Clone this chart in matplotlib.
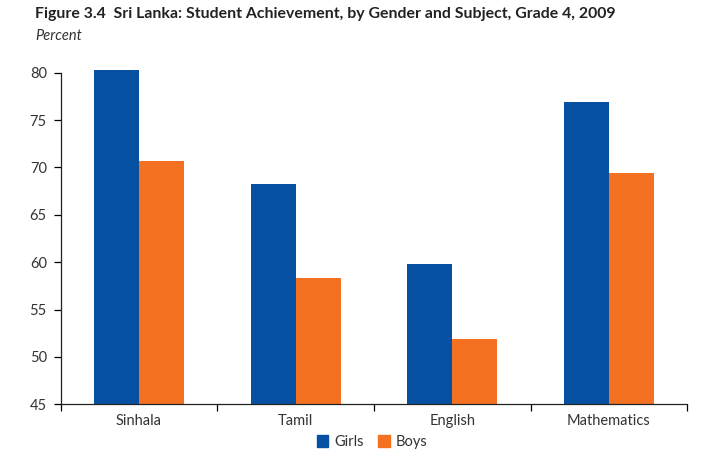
import numpy as np
import matplotlib.pyplot as plt
from matplotlib.patches import Patch

# -------------------------
# Data
# -------------------------
subjects = ["Sinhala", "Tamil", "English", "Mathematics"]
girls = [80.3, 68.3, 59.8, 76.9]
boys = [70.7, 58.3, 51.9, 69.4]

blue = "#0650A2"
orange = "#F37121"
base = 45

plt.rcParams["font.family"] = ["Lato", "DejaVu Sans"]

# -------------------------
# Plot
# -------------------------
fig = plt.figure(figsize=(7.23, 4.69), dpi=100)
ax = fig.add_axes([0.084, 0.138, 0.8666, 0.707])

x = np.arange(len(subjects))
w = 0.287
# bars start at the axis floor; the top Sinhala bar pokes just above 80 as in the original
ax.bar(x - w / 2, np.array(girls) - base, w, bottom=base, color=blue, clip_on=False)
ax.bar(x + w / 2, np.array(boys) - base, w, bottom=base, color=orange, clip_on=False)

ax.set_xlim(-0.5, 3.5)
ax.set_ylim(45, 80)
ax.set_yticks(np.arange(45, 81, 5))

# category boundary ticks on x axis
ax.set_xticks(np.arange(-0.5, 3.6, 1))
ax.set_xticklabels([])
ax.set_xticks(x, minor=True)
ax.set_xticklabels(subjects, minor=True)
ax.tick_params(axis="x", which="minor", length=0, pad=7, labelsize=10.5, labelcolor="#333333")
ax.tick_params(axis="x", which="major", length=5, width=0.9, direction="out")
ax.tick_params(axis="y", length=5, width=0.9, direction="out", pad=5, labelsize=10.5, labelcolor="#333333")

for s in ["top", "right"]:
    ax.spines[s].set_visible(False)
for s in ["left", "bottom"]:
    ax.spines[s].set_linewidth(0.9)
    ax.spines[s].set_color("#222222")
    ax.spines[s].set_zorder(3)

# Titles
fig.text(35 / 723, 1 - 14 / 469, "Figure 3.4  Sri Lanka: Student Achievement, by Gender and Subject, Grade 4, 2009",
         fontsize=11.4, fontweight="bold", color="#222222", va="center", ha="left")
fig.text(35 / 723, 1 - 36 / 469, "Percent", fontsize=10.5, style="italic", color="#333333", va="center", ha="left")

# Legend
handles = [Patch(color=blue, label="Girls"), Patch(color=orange, label="Boys")]
fig.legend(handles=handles, loc="center", bbox_to_anchor=(372 / 723, 1 - 442 / 469), ncol=2,
           frameon=False, fontsize=10.5, handlelength=0.8, handleheight=0.8, handletextpad=0.4,
           columnspacing=1.0, labelcolor="#333333")

plt.savefig("out.png", dpi=100)
